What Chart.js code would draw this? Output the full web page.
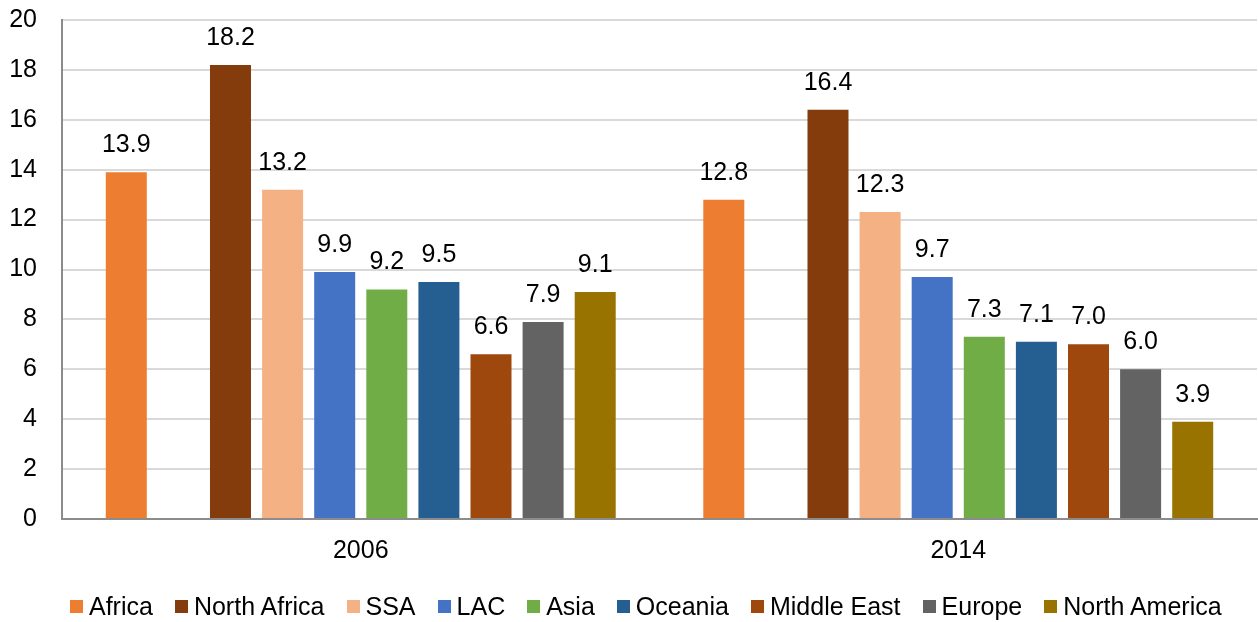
<!DOCTYPE html>
<html>
<head>
<meta charset="utf-8">
<script src="https://cdn.jsdelivr.net/npm/chart.js@4"></script>
<style>
  html, body { margin: 0; padding: 0; background: #fff; }
  #wrap { position: relative; width: 1258px; height: 622px; }
  #legend {
    position: absolute; left: 70px; top: 593px; height: 26px;
    display: flex; align-items: center; gap: 22px;
    font-family: 'Liberation Sans', Arial, Helvetica, sans-serif; font-size: 25px; color: #000;
    white-space: nowrap;
  }
  #legend .item { display: flex; align-items: center; gap: 6px; }
  #legend .box { width: 13px; height: 13px; }
</style>
</head>
<body>
<div id="wrap">
  <canvas id="chart" width="1258" height="622"></canvas>
  <div id="legend"></div>
</div>
<script>
// categories and series
var years = ["2006", "2014"];
var regions = ["Africa", "", "North Africa", "SSA", "LAC", "Asia", "Oceania", "Middle East", "Europe", "North America"];
var africa = [13.9, 12.8];
var spacer = [null, null]; // empty slot between Africa and North Africa
var northAfrica = [18.2, 16.4];
var ssa = [13.2, 12.3];
var lac = [9.9, 9.7];
var asia = [9.2, 7.3];
var oceania = [9.5, 7.1];
var middleEast = [6.6, 7.0];
var europe = [7.9, 6.0];
var northAmerica = [9.1, 3.9];
var yTicks = [0, 2, 4, 6, 8, 10, 12, 14, 16, 18, 20];

var seriesValues = [africa, spacer, northAfrica, ssa, lac, asia, oceania, middleEast, europe, northAmerica];
var colors = ["#ED7D31", "#FFFFFF", "#843C0C", "#F4B183", "#4472C4", "#70AD47", "#255E91", "#9E480E", "#636363", "#997300"];

var fontFamily = "'Liberation Sans', Arial, Helvetica, sans-serif";

var valueLabels = {
    id: "valueLabels",
    afterDatasetsDraw: function (chart) {
        var ctx = chart.ctx;
        ctx.save();
        ctx.font = "25px " + fontFamily;
        ctx.fillStyle = "#000";
        ctx.textAlign = "center";
        ctx.textBaseline = "middle";
        chart.data.datasets.forEach(function (ds, i) {
            var meta = chart.getDatasetMeta(i);
            meta.data.forEach(function (bar, j) {
                var v = ds.data[j];
                if (v === null || v === undefined) return;
                ctx.fillText(v.toFixed(1), bar.x, bar.y - 27);
            });
        });
        ctx.restore();
    }
};

var ctx = document.getElementById("chart").getContext("2d");
var myChart = new Chart(ctx, {
    type: "bar",
    data: {
        labels: years,
        datasets: regions.map(function (name, i) {
            return {
                label: name,
                data: seriesValues[i],
                backgroundColor: colors[i],
                borderWidth: 0,
                barPercentage: 0.787,
                categoryPercentage: 0.872
            };
        })
    },
    options: {
        responsive: false,
        animation: false,
        layout: { padding: { top: 20, right: 1, bottom: 39, left: 10 } },
        scales: {
            x: {
                grid: { display: false, drawTicks: false },
                border: { color: "#8c8c8c", width: 2 },
                ticks: { color: "#000", padding: 17, font: { family: fontFamily, size: 25 } }
            },
            y: {
                min: 0,
                max: 20,
                afterBuildTicks: function (axis) {
                    axis.ticks = yTicks.map(function (v) { return { value: v }; });
                },
                afterFit: function (axis) {
                    axis.width = 52;
                    axis.paddingTop = 0;
                    axis.paddingBottom = 0;
                },
                grid: { color: "#d9d9d9", lineWidth: 2, drawTicks: false },
                border: { color: "#8c8c8c", width: 2 },
                ticks: { color: "#000", padding: 25, font: { family: fontFamily, size: 25 } }
            }
        },
        plugins: {
            tooltip: { enabled: false },
            legend: { display: false }
        }
    },
    plugins: [valueLabels]
});

// legend built from the chart's own datasets (spacer skipped)
var legendEl = document.getElementById("legend");
myChart.data.datasets.forEach(function (ds) {
    if (ds.label === "") return;
    var item = document.createElement("div");
    item.className = "item";
    var box = document.createElement("span");
    box.className = "box";
    box.style.background = ds.backgroundColor;
    var text = document.createElement("span");
    text.textContent = ds.label;
    item.appendChild(box);
    item.appendChild(text);
    legendEl.appendChild(item);
});
</script>
</body>
</html>
